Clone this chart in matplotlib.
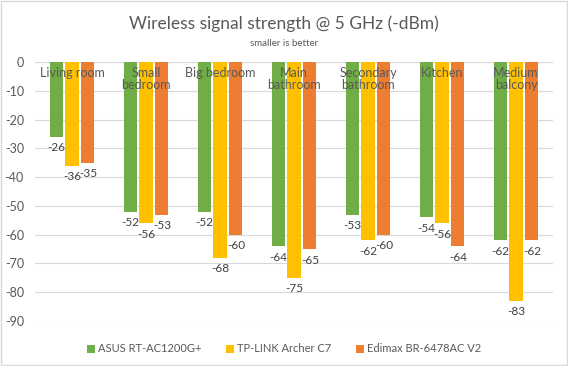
import numpy as np
import matplotlib.pyplot as plt
from matplotlib.patches import Rectangle

# Datos
rooms = ["Living room", "Small\nbedroom", "Big bedroom", "Main\nbathroom",
         "Secondary\nbathroom", "Kitchen", "Medium\nbalcony"]
asus = [-26, -52, -52, -64, -53, -54, -62]
tplink = [-36, -56, -68, -75, -62, -56, -83]
edimax = [-35, -53, -60, -65, -60, -64, -62]
series_names = ["ASUS RT-AC1200G+", "TP-LINK Archer C7", "Edimax BR-6478AC V2"]
colors = ["#70AD47", "#FFC000", "#ED7D31"]
yticks = [0, -10, -20, -30, -40, -50, -60, -70, -80, -90]

plt.rcParams['font.family'] = ['Lato', 'DejaVu Sans']
gray = "#595959"

fig = plt.figure(figsize=(5.68, 3.66), dpi=100)
ax = fig.add_axes([35/568, 1 - 321/366, 518/568, 259/366])

x = np.arange(len(rooms))
width = 0.176
step = 0.216
for i, (vals, name, col) in enumerate(zip([asus, tplink, edimax], series_names, colors)):
    pos = x + (i - 1) * step
    ax.bar(pos, vals, width, color=col, label=name)
    for xp, v in zip(pos, vals):
        ax.annotate(str(v), (xp, v), xytext=(0, -4), textcoords="offset points",
                    ha="center", va="top", fontsize=8.5, color="#404040")

# Etiquetas de categoría arriba, cerca del eje
for xp, r in zip(x, rooms):
    ax.text(xp, -1.8, r, ha="center", va="top", fontsize=9, color=gray,
            linespacing=1.0)

ax.set_xlim(-0.5, len(rooms) - 0.5)
ax.set_ylim(-90, 0)
ax.set_yticks(yticks)
ax.set_yticklabels([str(t) for t in yticks], fontsize=9, color=gray)
ax.set_xticks([])
ax.tick_params(axis="y", length=0, pad=8)
ax.grid(axis="y", color="#D9D9D9", linewidth=0.8)
ax.set_axisbelow(True)
for s in ax.spines.values():
    s.set_visible(False)
ax.axhline(0, color="#D9D9D9", linewidth=0.8, zorder=0)

fig.text(0.5, 1 - 24/366, "Wireless signal strength @ 5 GHz (-dBm)", ha="center",
         va="center", fontsize=12.5, color=gray)
fig.text(0.5, 1 - 43/366, "smaller is better", ha="center", va="center",
         fontsize=7, color=gray)

fig.legend(loc="center", bbox_to_anchor=(0.5, 1 - 349/366), ncol=3, frameon=False,
           fontsize=8, handlelength=0.7, handleheight=0.7, handletextpad=0.3,
           columnspacing=2.2, labelcolor=gray)

fig.patches.append(Rectangle((0.002, 0.002), 0.996, 0.995, transform=fig.transFigure,
                             fill=False, edgecolor="#D9D9D9", linewidth=1))

fig.savefig("out.png", dpi=100)
